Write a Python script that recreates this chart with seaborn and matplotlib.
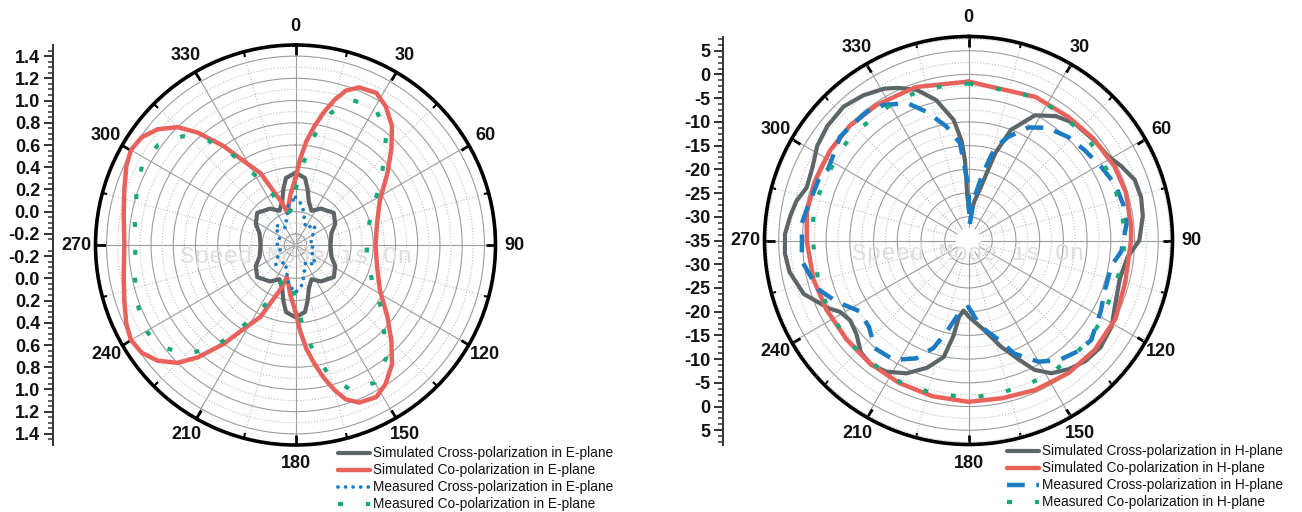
import numpy as np
import matplotlib
matplotlib.use("Agg")
import matplotlib.pyplot as plt
from matplotlib.patches import Circle
import seaborn as sns

# ---------------- E-plane (linear radial scale, centre -0.3, rim 1.5) ----------------
e_sim_cross_deg = [0, 8, 12, 17, 25, 35, 50, 62, 72, 90, 108, 118, 130, 145, 155, 163, 168, 172,
                   180, 188, 192, 197, 205, 215, 230, 242, 252, 270, 288, 298, 310, 325, 335, 343, 348, 352]
e_sim_cross = [0.35, 0.31, 0.22, 0.11, 0.04, 0.10, 0.15, 0.105, 0.04, 0.015, 0.04, 0.105, 0.15, 0.10, 0.04, 0.11, 0.22, 0.31,
               0.35, 0.31, 0.22, 0.11, 0.04, 0.10, 0.15, 0.105, 0.04, 0.015, 0.04, 0.105, 0.15, 0.10, 0.04, 0.11, 0.22, 0.31]

e_sim_co_deg = [0, 3, 6, 9, 12, 15, 18, 22, 28, 33, 39, 45, 52, 62, 75, 90, 105, 118, 128, 135,
                141, 147, 152, 158, 162, 165, 168, 171, 174, 177, 180, 186, 190, 195, 198, 206, 212, 216, 221, 225,
                230, 235, 240, 245, 252, 260, 270, 280, 288, 295, 300, 305, 310, 315, 319, 324, 328, 334, 342, 346,
                350, 354]
e_sim_co = [0.30, 0.47, 0.64, 0.78, 0.92, 1.05, 1.16, 1.23, 1.25, 1.19, 1.08, 0.92, 0.75, 0.56, 0.46, 0.42, 0.46, 0.56, 0.75, 0.92,
            1.08, 1.19, 1.25, 1.23, 1.16, 1.05, 0.92, 0.78, 0.64, 0.47, 0.30, 0.15, 0.06, 0.0, 0.105, 0.42, 0.60, 0.80, 1.04, 1.20,
            1.32, 1.39, 1.41, 1.38, 1.32, 1.27, 1.24, 1.27, 1.32, 1.38, 1.41, 1.39, 1.32, 1.20, 1.04, 0.80, 0.60, 0.42, 0.105, 0.0,
            0.06, 0.15]

e_meas_cross_deg = [0, 10, 20, 30, 45, 60, 75, 90, 105, 120, 135, 150, 160, 170,
                    180, 190, 200, 210, 225, 240, 255, 270, 285, 300, 315, 330, 340, 350]
e_meas_cross = [0.13, 0.06, -0.06, -0.12, -0.05, -0.12, -0.16, -0.13, -0.16, -0.12, -0.05, -0.12, -0.06, 0.06,
                0.13, 0.06, -0.06, -0.12, -0.05, -0.12, -0.16, -0.13, -0.16, -0.12, -0.05, -0.12, -0.06, 0.06]

e_meas_co_deg = [0, 5, 10, 15, 21, 30, 39, 45, 54, 65, 82, 90, 98, 115, 126, 135, 141, 150, 159, 165,
                 170, 175, 180, 186, 193, 200, 205, 211, 215, 220, 226, 234, 242, 251, 260, 270, 280, 289, 298, 306,
                 314, 320, 325, 329, 335, 340, 347, 354]
e_meas_co = [0.20, 0.42, 0.71, 0.93, 1.10, 1.13, 1.00, 0.83, 0.65, 0.46, 0.35, 0.34, 0.35, 0.46, 0.65, 0.83, 1.00, 1.13, 1.10, 0.93,
             0.71, 0.42, 0.20, 0.03, -0.01, 0.03, 0.25, 0.47, 0.70, 0.93, 1.11, 1.23, 1.26, 1.21, 1.17, 1.14, 1.17, 1.21, 1.26, 1.23,
             1.11, 0.93, 0.70, 0.47, 0.25, 0.03, -0.01, 0.03]

# ---------------- H-plane (dB, centre -35, rim 8) ----------------
h_sim_cross_deg = [1, 5, 9, 13, 17, 21, 28, 35, 42, 52, 59, 64, 70, 76, 82, 90, 96, 104, 114, 121,
                   129, 136, 142, 148, 153, 157, 163, 170, 180, 184, 187, 189, 192, 198, 205, 212, 218, 224, 230, 236,
                   241, 244, 249, 252, 260, 266, 272, 278, 283, 288, 295, 302, 309, 317, 324, 331, 335, 341, 347, 353,
                   356, 357.5, 358.5]
h_sim_cross = [-29.0, -28.7, -26.4, -23.4, -15.8, -10.0, -5.1, -3.0, -1.7, -1.1, -0.6, 0.8, 2.3, 2.5, 2.1, 1.0, -1.3, -2.1, -1.2, 0.2,
               0.8, 0.4, -0.6, -2.0, -4.4, -7.7, -11.6, -15.8, -19.0, -20.2, -18.8, -14.6, -9.9, -6.8, -4.1, -2.4, -1.7, -2.3, -4.2, -4.9,
               -4.0, -2.3, -0.1, 1.5, 3.3, 3.8, 3.7, 2.9, 2.2, 0.9, 1.3, 2.6, 3.3, 3.6, 2.8, 1.6, 0.5, -1.4, -4.6, -9.4,
               -13.9, -18.1, -25.5]

h_sim_co_deg = [0, 25, 39, 51, 63, 73, 85, 90, 105, 118, 131, 143, 156, 168, 180, 193, 206, 219, 231, 244,
                256, 270, 280, 291, 303, 314, 326, 341]
h_sim_co = [-1.5, -1.6, -1.5, -1.0, -0.5, -0.3, -0.6, -0.75, -0.8, 0.1, 0.2, 0.0, -0.5, -1.0, -1.0, -1.3, -1.6, -1.8, -1.9, -1.7,
            -1.3, -0.9, -0.4, -0.3, -0.2, -0.2, -0.5, -0.8]

h_meas_cross_deg = [4, 8, 12, 16, 21, 28, 35, 44, 52, 61, 69, 77, 84, 94, 100, 110, 118, 129, 135, 143,
                    150, 158, 163, 172, 180, 187, 193, 198, 204, 212, 221, 229, 237, 245, 252, 263, 276, 281, 293, 297,
                    309, 314, 322, 328, 336, 342, 349, 355, 360]
h_meas_cross = [-31.5, -25.7, -20.5, -14.6, -11.6, -8.0, -6.0, -4.7, -4.0, -3.0, -1.9, -1.5, -1.5, -2.7, -4.4, -4.4, -3.4, -1.7, -2.1, -3.4,
                -5.5, -9.3, -13.1, -16.7, -21.0, -19.8, -15.6, -11.2, -7.8, -5.3, -4.9, -7.2, -7.6, -4.4, -1.7, 0.4, 0.3, -0.3, -0.9, -1.8,
                -0.2, -0.4, -0.4, -1.3, -3.3, -6.5, -10.5, -14.4, -23.7]

h_meas_co_deg = [0, 20, 30, 40, 49, 58, 68, 78, 87, 98, 118, 127, 137, 147, 157, 167, 177, 186, 195, 205,
                 215, 225, 234, 244, 254, 273, 284, 293, 303, 312, 332, 341, 352]
h_meas_co = [-1.9, -2.0, -1.8, -2.1, -1.9, -2.1, -2.2, -2.1, -2.0, -2.1, -2.5, -2.1, -2.1, -2.1, -2.2, -2.2, -2.0, -2.1, -2.0, -1.8,
             -2.1, -2.0, -2.1, -2.1, -2.1, -1.9, -1.7, -2.2, -2.1, -1.8, -1.8, -1.9, -1.9]

angle_labels = [str(a) for a in range(0, 360, 30)]
e_tick_vals = [1.4, 1.2, 1.0, 0.8, 0.6, 0.4, 0.2, 0.0, -0.2]
h_tick_vals = [5, 0, -5, -10, -15, -20, -25, -30, -35]

e_labels = ["Simulated Cross-polarization in E-plane", "Simulated Co-polarization in E-plane",
            "Measured Cross-polarization in E-plane", "Measured Co-polarization in E-plane"]
h_labels = ["Simulated Cross-polarization in H-plane", "Simulated Co-polarization in H-plane",
            "Measured Cross-polarization in H-plane", "Measured Co-polarization in H-plane"]

GRAY = "#5c6567"
RED = "#e8625b"
BLUE = "#1b7cc3"
GREEN = "#18a97a"

sns.set_style("white")
plt.rcParams["font.family"] = ["Liberation Sans", "DejaVu Sans"]

W, H = 1302, 512
fig = plt.figure(figsize=(W / 100, H / 100), dpi=100)


def box(x0, y0, w, h):
    # pixel box (from top-left) -> figure fraction
    return [x0 / W, 1 - (y0 + h) / H, w / W, h / H]


def closed(deg, val):
    th = np.radians(list(deg) + [deg[0] + 360])
    return th, list(val) + [val[0]]


def setup_polar(ax, rmin, rmax, major, minor):
    ax.set_theta_zero_location("N")
    ax.set_theta_direction(-1)
    ax.set_ylim(rmin, rmax)
    ax.set_xticks(np.radians(np.arange(0, 360, 30)))
    ax.set_xticklabels(angle_labels, fontsize=13, fontweight="bold", color="#111111")
    ax.set_xticks(np.radians(np.arange(15, 360, 30)), minor=True)
    ax.set_yticks(major)
    ax.set_yticks(minor, minor=True)
    ax.set_yticklabels([])
    ax.tick_params(axis="y", which="both", length=0)
    ax.grid(True, which="major", color="#9c9c9c", lw=0.8, ls="-")
    ax.grid(True, which="minor", color="#bdbdbd", lw=0.8, ls=":")
    # theta ticks: tick2 sits on the outer rim, tick1 at the centre
    ax.tick_params(axis="x", which="major", bottom=False, top=True, labelbottom=True, labeltop=False,
                   direction="in", length=7, width=2, color="k", pad=6.5)
    ax.tick_params(axis="x", which="minor", bottom=False, top=True, direction="in", length=4, width=1.5, color="k")
    ax.spines["polar"].set_linewidth(2.6)
    ax.spines["polar"].set_color("k")


def radial_axis(rect, half, centre, tick_vals, minor_step, fmt):
    rax = fig.add_axes(rect)
    rax.set_ylim(-half, half)
    rax.set_xlim(0, 1)
    for s in ["top", "right", "bottom"]:
        rax.spines[s].set_visible(False)
    rax.spines["left"].set_linewidth(1.4)
    rax.spines["left"].set_color("#333333")
    rax.set_xticks([])
    pos, lab = [], []
    for v in tick_vals:
        d = v - centre
        pos.append(d)
        lab.append(fmt(v))
        if d > 1e-9:
            pos.append(-d)
            lab.append(fmt(v))
    rax.set_yticks(pos)
    rax.set_yticklabels(lab, fontsize=13, fontweight="bold", color="#111111")
    mins = np.arange(minor_step, half, minor_step)
    rax.set_yticks(np.concatenate([mins, -mins]), minor=True)
    rax.tick_params(axis="y", which="major", left=True, direction="out", length=6.5, width=1.4, pad=3, color="#333333")
    rax.tick_params(axis="y", which="minor", left=True, direction="out", length=3.5, width=1.1, color="#333333")
    rax.patch.set_visible(False)
    return rax


def draw(ax, deg, val, **kw):
    th, r = closed(deg, val)
    sns.lineplot(x=th, y=r, ax=ax, sort=False, estimator=None, legend=False, **kw)


legend_kw = dict(loc="upper left", frameon=False, fontsize=9.8, handlelength=2.35, handletextpad=0.25,
                 labelspacing=0.22, borderpad=0, borderaxespad=0, labelcolor="#111111")

# ---------------- left: E-plane ----------------
axE = fig.add_axes(box(95.5, 45, 400, 400), projection="polar")
setup_polar(axE, -0.3, 1.5, np.arange(-0.2, 1.45, 0.2), np.arange(-0.1, 1.45, 0.2))
axE.text(0.5, 0.47, "Speed Mode is On", transform=axE.transAxes, ha="center", va="center",
         fontsize=17.5, family="Liberation Mono", color="#dedede", zorder=1.5)
draw(axE, e_sim_cross_deg, e_sim_cross, color=GRAY, lw=3.0, label=e_labels[0])
draw(axE, e_sim_co_deg, e_sim_co, color=RED, lw=3.2, label=e_labels[1])
draw(axE, e_meas_cross_deg, e_meas_cross, color=BLUE, lw=2.7, linestyle=(0, (0.01, 2.0)),
     dash_capstyle="round", label=e_labels[2])
draw(axE, e_meas_co_deg, e_meas_co, color=GREEN, lw=3.0, linestyle=(0, (1.2, 5.5)), label=e_labels[3])

radial_axis(box(53.3, 45, 1, 400), 1.8, -0.3, e_tick_vals, 0.05, lambda v: f"{v:.1f}")

hE, _ = axE.get_legend_handles_labels()
fig.legend(hE, e_labels, bbox_to_anchor=(338 / W, 1 - 446.5 / H), **legend_kw)

# ---------------- right: H-plane ----------------
axH = fig.add_axes(box(764.5, 36.5, 408, 408), projection="polar")
setup_polar(axH, -35, 8, np.arange(-30, 8, 5), np.arange(-32.5, 8, 5))
axH.add_patch(Circle((0.5, 0.5), 12 / 408, transform=axH.transAxes, color="white", zorder=1.4))
axH.text(0.5, 0.469, "Speed Mode is On", transform=axH.transAxes, ha="center", va="center",
         fontsize=17.5, family="Liberation Mono", color="#dedede", zorder=1.5)
draw(axH, h_sim_cross_deg, h_sim_cross, color=GRAY, lw=3.0, label=h_labels[0])
draw(axH, h_sim_co_deg, h_sim_co, color=RED, lw=3.2, label=h_labels[1])
draw(axH, h_meas_cross_deg, h_meas_cross, color=BLUE, lw=3.2, linestyle=(0, (4, 2.6)), label=h_labels[2])
draw(axH, h_meas_co_deg, h_meas_co, color=GREEN, lw=3.0, linestyle=(0, (1.2, 5.5)), label=h_labels[3])

radial_axis(box(723.3, 36.5, 1, 408), 43, -35, h_tick_vals, 1.25, lambda v: f"{v:d}")

hH, _ = axH.get_legend_handles_labels()
fig.legend(hH, h_labels, bbox_to_anchor=(1007 / W, 1 - 444.5 / H), **legend_kw)

fig.savefig("out.png", dpi=100, facecolor="white")
